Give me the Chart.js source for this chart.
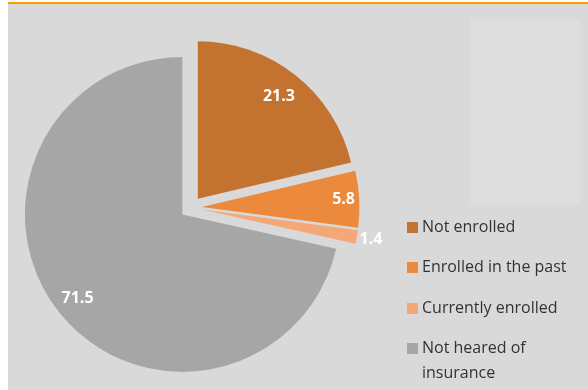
<!DOCTYPE html>
<html>
<head>
<meta charset="utf-8">
<script src="https://cdn.jsdelivr.net/npm/chart.js@4.4.1/dist/chart.umd.min.js"></script>
<style>
  html, body { margin: 0; padding: 0; }
  body { width: 588px; height: 390px; position: relative; overflow: hidden; background: #fff; font-family: "Open Sans", sans-serif; }
  #panel { position: absolute; left: 8px; top: 2px; width: 580px; height: 386px; background: #d9d9d9; border-top: 2px solid #ff9a00; }
  #box { position: absolute; left: 470px; top: 19px; width: 110px; height: 185px; background: #dddddd; }
  #wrap { position: absolute; left: 0; top: 0; width: 588px; height: 390px; }
  #legend { position: absolute; left: 407px; top: 214px; width: 173px; margin: 0; padding: 0; list-style: none; }
  #legend li { position: relative; height: 40.4px; padding-left: 15px; font-size: 16px; line-height: 25px; color: #333333; }
  #legend li span { position: absolute; left: 0; top: 8px; width: 11px; height: 11px; }
</style>
</head>
<body>
<div id="panel"></div>
<div id="box"></div>
<div id="wrap"><canvas id="chart"></canvas></div>
<ul id="legend"></ul>
<script>
// share of respondents (%)
const labels = ['Not enrolled', 'Enrolled in the past', 'Currently enrolled', 'Not heared of insurance'];
const values = [21.3, 5.8, 1.4, 71.5];
const colors = ['#c4722f', '#eb8a3c', '#f4a877', '#a6a6a6'];

// legend built by hand so the last label can wrap like the original
const legend = document.getElementById('legend');
labels.forEach((l, i) => {
    const li = document.createElement('li');
    li.innerHTML = '<span style="background:' + colors[i] + '"></span>' + l;
    legend.appendChild(li);
});

// pull every slice away from the centre by the same distance
const explode = {
    id: 'explode',
    afterDatasetsUpdate(chart, args, opts) {
        chart.getDatasetMeta(0).data.forEach(arc => {
            const mid = (arc.startAngle + arc.endAngle) / 2;
            arc.x += Math.cos(mid) * opts.distance;
            arc.y += Math.sin(mid) * opts.distance;
        });
    }
};

const sliceLabels = {
    id: 'sliceLabels',
    afterDatasetsDraw(chart, args, opts) {
        const ctx = chart.ctx;
        ctx.save();
        ctx.font = opts.font;
        ctx.fillStyle = opts.color;
        ctx.textAlign = 'center';
        ctx.textBaseline = 'middle';
        chart.getDatasetMeta(0).data.forEach((arc, i) => {
            const mid = (arc.startAngle + arc.endAngle) / 2;
            const r = arc.outerRadius * opts.radial[i];
            ctx.fillText(values[i].toFixed(1), arc.x + Math.cos(mid) * r, arc.y + Math.sin(mid) * r);
        });
        ctx.restore();
    }
};

new Chart('chart', {
    type: 'pie',
    data: {
        labels: labels,
        datasets: [{
            data: values,
            backgroundColor: colors,
            borderWidth: 0,
            hoverOffset: 0,
            offset: 0
        }]
    },
    options: {
        responsive: true,
        maintainAspectRatio: false,
        animation: false,
        events: [],
        layout: { padding: { left: 33.5, top: 50, right: 239.5, bottom: 25 } },
        plugins: {
            legend: { display: false },
            tooltip: { enabled: false },
            explode: { distance: 11 },
            sliceLabels: {
                font: 'bold 16px "Open Sans", sans-serif',
                color: '#ffffff',
                radial: [0.83, 0.9, 1.09, 0.853]
            }
        }
    },
    plugins: [explode, sliceLabels]
});
</script>
</body>
</html>
